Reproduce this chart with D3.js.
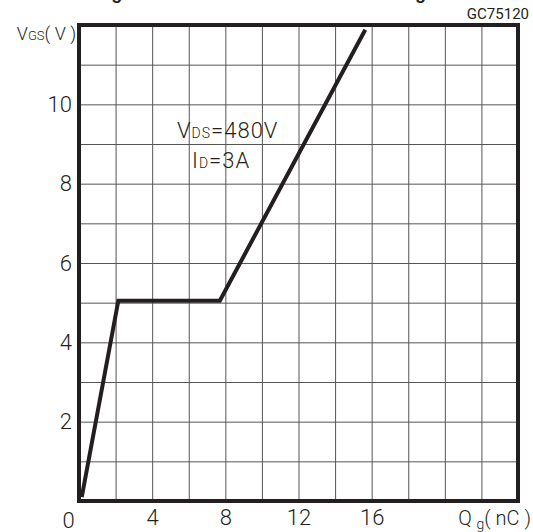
<!DOCTYPE html>
<meta charset="utf-8">
<script src="https://d3js.org/d3.v7.min.js"></script>
<style>
body { margin: 0; background: #fff; }
svg { display: block; }
text { font-family: Roboto, "Liberation Sans", sans-serif; font-weight: 300; fill: #231f20; }
</style>
<div id="chart"></div>
<script>
// data
var qgTicks = [0, 4, 8, 12, 16];
var vgsTicks = [2, 4, 6, 8, 10];
var qgCurve = [0.15, 2.15, 7.7, 15.65];     // nC
var vgsCurve = [0.1, 5.05, 5.05, 11.88];    // V

var W = 533, H = 532;
var svg = d3.select("#chart").append("svg")
    .attr("width", W)
    .attr("height", H);

var x = d3.scaleLinear().domain([0, 24]).range([79, 518]);
var y = d3.scaleLinear().domain([0, 12]).range([501, 25]);

// cropped title, only the descenders show
svg.append("text")
    .attr("x", -13)
    .attr("y", -1)
    .style("font-family", "'Liberation Sans', Arial, sans-serif")
    .style("font-weight", "bold")
    .style("font-size", "18px")
    .style("letter-spacing", "4.26px")
    .text("Gate Charge vs Gate-Source Voltage");

svg.append("text")
    .attr("x", 529)
    .attr("y", 19)
    .attr("text-anchor", "end")
    .style("font-size", "15px")
    .style("font-weight", 400)
    .text("GC75120");

// grid
svg.append("g")
    .attr("transform", "translate(0," + y(0) + ")")
    .call(d3.axisBottom(x).tickValues(d3.range(2, 24, 2)).tickSize(y(12) - y(0)).tickFormat(""))
    .call(function(g) { g.select(".domain").remove(); })
    .selectAll("line").attr("stroke", "#555").attr("stroke-width", 1);

svg.append("g")
    .attr("transform", "translate(" + x(0) + ",0)")
    .call(d3.axisRight(y).tickValues(d3.range(1, 12, 1)).tickSize(x(24) - x(0)).tickFormat(""))
    .call(function(g) { g.select(".domain").remove(); })
    .selectAll("line").attr("stroke", "#555").attr("stroke-width", 1);

// tick labels
var xAx = svg.append("g")
    .attr("transform", "translate(0," + y(0) + ")")
    .call(d3.axisBottom(x).tickValues(qgTicks).tickSize(0))
    .call(function(g) { g.select(".domain").remove(); });
xAx.selectAll("text")
    .style("font-size", "22px")
    .attr("dy", 0)
    .attr("fill", "#231f20")
    .attr("dx", function(d) { return d === 0 ? -11 : 0; })
    .attr("y", function(d) { return d === 0 ? 27 : 24; });

svg.append("g")
    .attr("transform", "translate(" + x(0) + ",0)")
    .call(d3.axisLeft(y).tickValues(vgsTicks).tickSize(0).tickPadding(7))
    .call(function(g) { g.select(".domain").remove(); })
    .selectAll("text")
    .style("font-size", "22px")
    .attr("fill", "#231f20");

// axis titles
var yt = svg.append("text").attr("x", 76).attr("y", 40).attr("text-anchor", "end").style("font-size", "18px");
yt.append("tspan").text("V");
yt.append("tspan").style("font-size", "13px").text("GS");
yt.append("tspan").text("( V )");

var xt = svg.append("text").attr("x", 531).attr("y", 525).attr("text-anchor", "end").style("font-size", "20px");
xt.append("tspan").text("Q ");
xt.append("tspan").style("font-size", "14px").attr("dy", 4).text("g");
xt.append("tspan").attr("dy", -4).text("( nC )");

// conditions
var a1 = svg.append("text").attr("x", 177).attr("y", 138).style("font-size", "22px").style("letter-spacing", "1px");
a1.append("tspan").text("V");
a1.append("tspan").style("font-size", "14px").text("DS");
a1.append("tspan").text("=480V");
var a2 = svg.append("text").attr("x", 192).attr("y", 168).style("font-size", "22px").style("letter-spacing", "1px");
a2.append("tspan").text("I");
a2.append("tspan").style("font-size", "14px").text("D");
a2.append("tspan").text("=3A");

// curve
var pts = qgCurve.map(function(q, i) { return [q, vgsCurve[i]]; });
svg.append("path")
    .datum(pts)
    .attr("fill", "none")
    .attr("stroke", "#231f20")
    .attr("stroke-width", 4)
    .attr("stroke-linejoin", "miter")
    .attr("d", d3.line().x(function(d) { return x(d[0]); }).y(function(d) { return y(d[1]); }));

// frame
svg.append("rect")
    .attr("x", x(0))
    .attr("y", y(12))
    .attr("width", x(24) - x(0))
    .attr("height", y(0) - y(12))
    .attr("fill", "none")
    .attr("stroke", "#231f20")
    .attr("stroke-width", 4);
</script>
